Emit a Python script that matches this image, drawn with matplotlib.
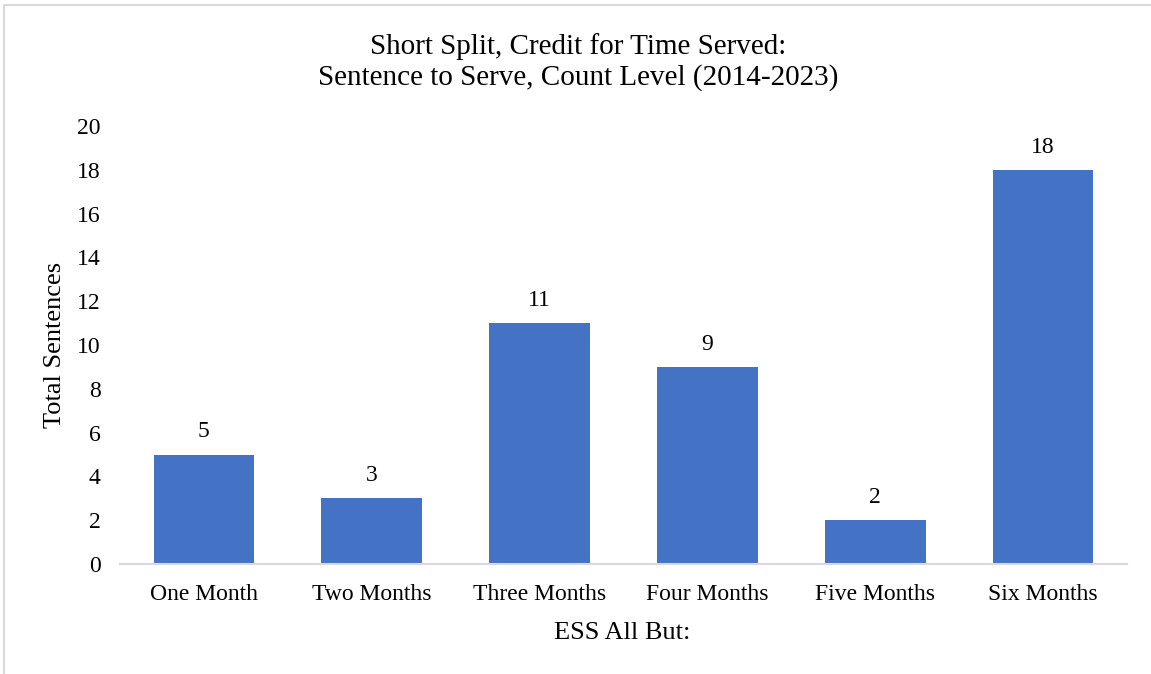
import matplotlib
matplotlib.use("Agg")
import matplotlib.pyplot as plt
from matplotlib.patches import Rectangle

categories = ["One Month", "Two Months", "Three Months", "Four Months", "Five Months", "Six Months"]
values = [5, 3, 11, 9, 2, 18]
yticks = [0, 2, 4, 6, 8, 10, 12, 14, 16, 18, 20]

plt.rcParams['font.family'] = ['Liberation Serif', 'DejaVu Serif']

W, H = 1151, 674
fig = plt.figure(figsize=(W/100, H/100), dpi=100)
fig.patches.append(Rectangle((4/W, -0.1), 1.2, 1 - 5/H + 0.1, transform=fig.transFigure,
                             fill=False, edgecolor='#D9D9D9', linewidth=1.5))

ax = fig.add_axes([120/W, 1 - 564/H, 1007/W, (564 - 126)/H])
x = list(range(len(categories)))
ax.bar(x, values, width=0.6, color='#4472C4', zorder=2)
for xi, v in zip(x, values):
    ax.text(xi, v + 0.55, str(v), ha='center', va='bottom', fontsize=17, color='black')

ax.set_xlim(-0.5, len(categories) - 0.5)
ax.set_ylim(0, 20)
ax.set_yticks(yticks)
ax.set_yticklabels([str(t) for t in yticks], fontsize=17)
ax.set_xticks(x)
ax.set_xticklabels(categories, fontsize=17)
ax.tick_params(axis='both', length=0)
ax.tick_params(axis='y', pad=14)
ax.tick_params(axis='x', pad=14.5)
for s in ['top', 'right', 'left']:
    ax.spines[s].set_visible(False)
ax.spines['bottom'].set_color('#D9D9D9')
ax.spines['bottom'].set_linewidth(1.5)

fig.text(578/W, 1 - 62/H, "Short Split, Credit for Time Served:\nSentence to Serve, Count Level (2014-2023)",
         ha='center', va='center', fontsize=21, linespacing=1.23)
fig.text(622/W, 1 - 633/H, "ESS All But:", ha='center', va='center', fontsize=19)
fig.text(55/W, 1 - 345/H, "Total Sentences", ha='center', va='center', fontsize=19, rotation=90)

fig.savefig("out.png", dpi=100, facecolor='white')
